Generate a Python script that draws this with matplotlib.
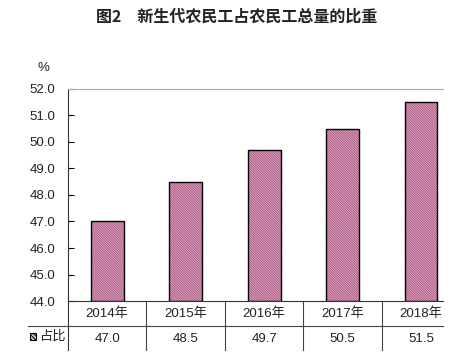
import matplotlib
matplotlib.use("Agg")
import matplotlib.pyplot as plt
from matplotlib.patches import Rectangle

plt.rcParams['font.family'] = ['Liberation Sans', 'Noto Sans CJK SC', 'DejaVu Sans']
plt.rcParams['hatch.linewidth'] = 0.7

# 数据
years = ['2014年', '2015年', '2016年', '2017年', '2018年']
share = [47.0, 48.5, 49.7, 50.5, 51.5]
yticks = [44.0, 45.0, 46.0, 47.0, 48.0, 49.0, 50.0, 51.0, 52.0]

pink = '#e9b2cc'
hatch_col = '#a85a85'

fig = plt.figure(figsize=(4.74, 3.53), dpi=100)
ax = fig.add_axes([0.1435, 0.1473, 0.791, 0.6006])

x = list(range(len(years)))
ax.bar(x, [v - 44 for v in share], bottom=44, width=0.42, color=pink,
       edgecolor=hatch_col, hatch='\\' * 14, linewidth=0)
ax.bar(x, [v - 44 for v in share], bottom=44, width=0.42, fill=False,
       edgecolor='black', linewidth=1.0)

ax.set_xlim(-0.5, 4.28)
ax.set_ylim(44, 52)
ax.set_yticks(yticks)
ax.set_yticklabels([f'{t:.1f}' for t in yticks], fontsize=9.5, color='#222222')
ax.tick_params(axis='y', direction='in', length=4, width=0.8, pad=9)
ax.set_xticks([])

ax.spines['right'].set_visible(False)
ax.spines['top'].set_color('#aaaaaa')
ax.spines['left'].set_color('#333333')
ax.spines['bottom'].set_color('#333333')

ax.text(-0.5 + (43 - 68) / 78.5, 1.10, '%', transform=ax.get_xaxis_transform(),
        ha='center', va='center', fontsize=9.5, color='#222222')

# 数据表
tr = ax.get_xaxis_transform()
row = 25 / 212
bottom = -49 / 212
lc = '#444444'
ax.plot([-0.5, -0.5], [0, bottom], transform=tr, color='#333333', lw=0.8, clip_on=False)
for i in range(1, len(years)):
    ax.plot([i - 0.5, i - 0.5], [0, bottom], transform=tr, color=lc, lw=0.8, clip_on=False)
ax.plot([-1.01, 4.28], [-row, -row], transform=tr, color=lc, lw=0.8, clip_on=False)

for i, (yr, v) in enumerate(zip(years, share)):
    ax.text(i, -row / 2, yr, transform=tr, ha='center', va='center',
            fontsize=9.5, color='#222222')
    ax.text(i, -row * 1.5, f'{v:.1f}', transform=tr, ha='center', va='center',
            fontsize=9.5, color='#222222')

# 图例
lx = 30 / 474
ly = 1 - 340 / 353
fig.patches.append(Rectangle((lx, ly), 6 / 474, 7 / 353, transform=fig.transFigure,
                             facecolor=pink, edgecolor='black', hatch='\\' * 8,
                             linewidth=0.8))
fig.text(40 / 474, 1 - 337 / 353, '占比', ha='left', va='center',
         fontsize=9.5, color='#222222')

fig.text(0.5, 1 - 17 / 353, '图2　新生代农民工占农民工总量的比重', ha='center', va='center',
         fontsize=11.5, fontweight='bold', color='#222222',
         family=['Noto Sans CJK SC', 'DejaVu Sans'])

fig.savefig('out.png', dpi=100)
